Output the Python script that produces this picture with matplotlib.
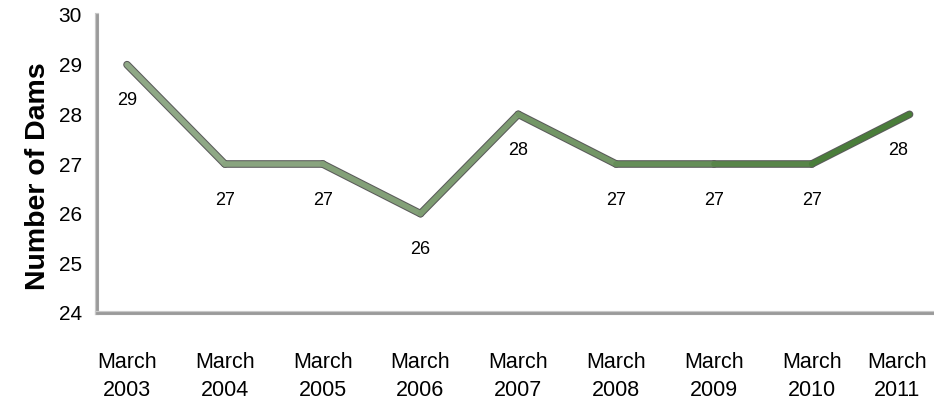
import numpy as np
import matplotlib.pyplot as plt
import matplotlib.transforms as mtrans
from matplotlib.collections import LineCollection
from matplotlib.colors import LinearSegmentedColormap
import matplotlib.patheffects as pe

years = ['2003', '2004', '2005', '2006', '2007', '2008', '2009', '2010', '2011']
dams = [29, 27, 27, 26, 28, 27, 27, 27, 28]
tick_labels = ['March\n' + y for y in years]

plt.rcParams['font.family'] = ['Liberation Sans', 'DejaVu Sans']

fig = plt.figure(figsize=(9.34, 4.04), dpi=100)
ax = fig.add_axes([97 / 934, 1 - 313 / 404, 1 - 97 / 934, (313 - 15) / 404])

x = np.arange(len(dams))
pts = np.column_stack([x, dams]).reshape(-1, 1, 2)
segs = np.concatenate([pts[:-1], pts[1:]], axis=1)

# grey-green to dark green along the line
cmap = LinearSegmentedColormap.from_list('g', ['#8fa886', '#7a9a6e', '#4a7d3a'])
lc = LineCollection(segs, colors=cmap(np.linspace(0, 1, len(segs))),
                    linewidths=4, capstyle='round', joinstyle='miter', zorder=3)
lc.set_path_effects([pe.Stroke(linewidth=5.5, foreground='#5a5a5a'), pe.Normal()])
ax.add_collection(lc)

for xi, v in zip(x, dams):
    dx = -8 if xi == x[-1] else 0
    ax.annotate(str(v), (xi, v), textcoords='offset points', xytext=(dx, -26),
                ha='center', va='center', fontsize=13, color='black')

ax.set_xlim(-0.307, 8.25)
ax.set_ylim(24, 30)
ax.set_yticks(range(24, 31))
ax.set_xticks(x)
ax.set_xticklabels(tick_labels, fontsize=15.5, linespacing=1.45)
ax.tick_params(axis='both', length=0)
ax.tick_params(axis='y', labelsize=15, pad=11)
ax.tick_params(axis='x', pad=28)

# pull the last tick label back inside the figure
last = ax.get_xticklabels()[-1]
last.set_transform(last.get_transform() + mtrans.ScaledTranslation(-9 / 72, 0, fig.dpi_scale_trans))

for s in ['top', 'right']:
    ax.spines[s].set_visible(False)
for s in ['left', 'bottom']:
    ax.spines[s].set_color('#9a9a9a')
    ax.spines[s].set_linewidth(2)
    ax.spines[s].set_path_effects([pe.Stroke(linewidth=3, foreground='#c8c8c8'), pe.Normal()])

ax.set_ylabel('Number of Dams', fontsize=20.5, fontweight='bold', labelpad=5)
ax.yaxis.label.set_y(0.46)

plt.savefig('out.png', dpi=100, facecolor='white')
